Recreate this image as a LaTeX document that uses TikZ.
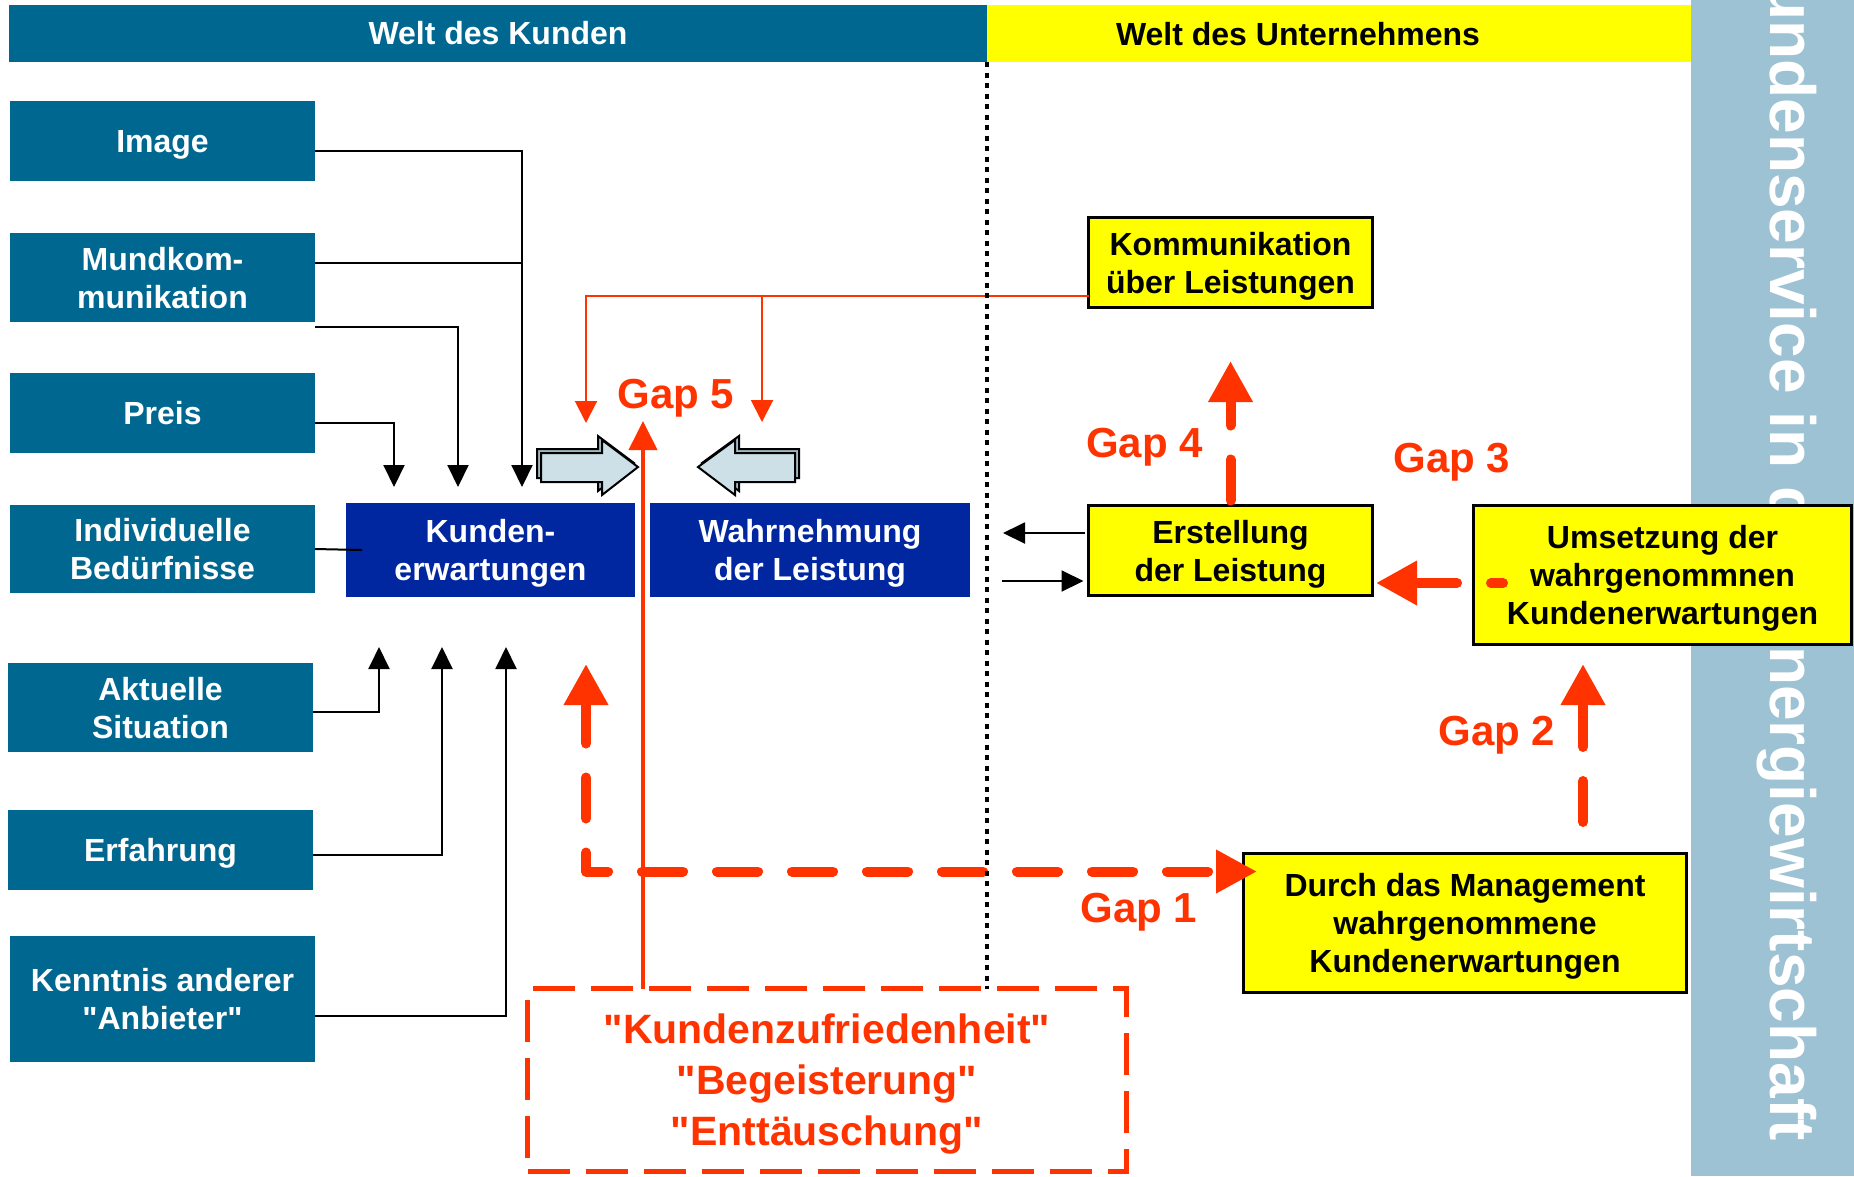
\documentclass[tikz,border=0pt]{standalone}
\usepackage{fontspec}
\setmainfont{Liberation Sans}[Ligatures=TeXOff]
\usetikzlibrary{arrows.meta,calc}
\definecolor{tealc}{RGB}{0,104,144}
\definecolor{navyc}{RGB}{0,38,160}
\definecolor{redc}{RGB}{255,51,0}
\definecolor{bandc}{RGB}{157,194,212}
\definecolor{arrc}{RGB}{205,223,231}
\definecolor{arrd}{RGB}{160,185,196}
\definecolor{yelc}{RGB}{255,255,0}
\newcommand\nodepth[1]{\raisebox{0pt}[\height][0pt]{#1}}
\begin{document}
\begin{tikzpicture}[x=1pt,y=-1pt,
  every node/.style={inner sep=0pt, outer sep=0pt},
  basebox/.style={font=\fontsize{32}{38}\selectfont\bfseries, align=center, anchor=north west},
  tealbox/.style={basebox, fill=tealc, text=white},
  navybox/.style={basebox, fill=navyc, text=white},
  yelbox/.style={basebox, fill=yelc, draw=black, line width=3pt},
  gaplabel/.style={text=redc, font=\fontsize{42}{48}\selectfont\bfseries, anchor=base},
  feed/.style={draw=black, line width=2pt, -{Triangle[length=22pt,width=21pt]}},
  thinred/.style={draw=redc, line width=2pt, -{Triangle[length=22pt,width=22pt]}},
  gapdash/.style={draw=redc, line width=10pt, line cap=round, line join=round, dash pattern=on 41pt off 34pt},
  gapline/.style={gapdash, -{Triangle[length=41pt,width=42pt]}},
  blockarrow/.style={fill=arrc, draw=black, line width=2pt, line join=miter},
  blockback/.style={fill=arrd, draw=black, line width=2pt, line join=miter},
]
\useasboundingbox (0,0) rectangle (1854,1176);

% right band with vertical title
\fill[bandc] (1691,0) rectangle (1854,1176);
\begin{scope}
  \clip (1691,0) rectangle (1854,1176);
  \node[rotate=-90, anchor=base west, text=white, font=\fontsize{64}{70}\selectfont\bfseries] (side) at (1770,-65) {Kundenservice in der Energiewirtschaft};
\end{scope}

% headers
\node[fill=tealc, text=white, font=\fontsize{32}{38}\selectfont\bfseries, minimum width=978, minimum height=57, anchor=north west] (hk) at (9,5) {Welt des Kunden};
\node[fill=yelc, minimum width=704, minimum height=57, anchor=north west] (hu) at (987,5) {};
\node[font=\fontsize{32}{38}\selectfont\bfseries, anchor=base] (hut) at (1298,45) {Welt des Unternehmens};

% left factor boxes
\node[tealbox, minimum width=305, minimum height=80] (img) at (10,101) {\nodepth{Image}};
\node[tealbox, minimum width=305, minimum height=89] (mund) at (10,233) {Mundkom-\\\nodepth{munikation}};
\node[tealbox, minimum width=305, minimum height=80] (preis) at (10,373) {\nodepth{Preis}};
\node[tealbox, minimum width=305, minimum height=88] (indiv) at (10,505) {Individuelle\\\nodepth{Bedürfnisse}};
\node[tealbox, minimum width=305, minimum height=89] (akt) at (8,663) {Aktuelle\\\nodepth{Situation}};
\node[tealbox, minimum width=305, minimum height=80] (erf) at (8,810) {\nodepth{Erfahrung}};
\node[tealbox, minimum width=305, minimum height=126] (kenn) at (10,936) {Kenntnis anderer\\\nodepth{"Anbieter"}};

% central boxes
\node[navybox, minimum width=289, minimum height=94] (kund) at (346,503) {Kunden-\\\nodepth{erwartungen}};
\node[navybox, minimum width=320, minimum height=94] (wahr) at (650,503) {Wahrnehmung\\\nodepth{der Leistung}};

% company boxes
\node[yelbox, minimum width=284, minimum height=90] (kom) at (1088.5,217.5) {Kommunikation\\\nodepth{über Leistungen}};
\node[yelbox, minimum width=284, minimum height=90] (erst) at (1088.5,505.5) {Erstellung\\\nodepth{der Leistung}};
\node[yelbox, minimum width=378, minimum height=139] (ums) at (1473.5,505.5) {Umsetzung der\\wahrgenommnen\\\nodepth{Kundenerwartungen}};
\node[yelbox, minimum width=443, minimum height=139] (durch) at (1243.5,853.5) {Durch das Management\\wahrgenommene\\\nodepth{Kundenerwartungen}};

% satisfaction box
\node[draw=redc, line width=5pt, dash pattern=on 42pt off 16pt, text=redc, font=\fontsize{41}{51}\selectfont\bfseries, align=center, anchor=north west, minimum width=599, minimum height=183] (sat) at (527.5,988.5) {"Kundenzufriedenheit"\\"Begeisterung"\\\nodepth{"Enttäuschung"}};

% free ends
\coordinate (t1) at (394,487);
\coordinate (t2) at (458,487);
\coordinate (t3) at (522,487);
\coordinate (b1) at (379,647);
\coordinate (b2) at (442,647);
\coordinate (b3) at (506,647);
\coordinate (r1) at (586,423);
\coordinate (r2) at (762,422);
\coordinate (komL) at ([yshift=-33.5pt]kom.west);
\coordinate (g5tip) at (643,421);
\coordinate (g4tip) at (1230.5,361);
\coordinate (g3s) at (1503,583);
\coordinate (g3tip) at (1376,583);
\coordinate (g2s) at (1583,822);
\coordinate (g2tip) at (1583,664);
\coordinate (g1a) at (586,664);
\coordinate (g1b) at (1257,871.5);
\coordinate (wl1) at (1003,533);
\coordinate (wl2) at (1002,581);

% black feed arrows
\draw[feed] ([yshift=-10pt]img.east) -| (t3);
\draw[draw=black, line width=2pt] ([yshift=14.5pt]mund.east) -- ([yshift=14.5pt]mund.east -| t3);
\draw[feed] ([yshift=-5pt]mund.south east) -| (t2);
\draw[feed] ([yshift=-10pt]preis.east) -| (t1);
\draw[draw=black, line width=2pt] (indiv.east) -- ([xshift=16pt]kund.west);
\draw[feed] ([yshift=-4.5pt]akt.east) -| (b1);
\draw[feed] ([yshift=-5pt]erf.east) -| (b2);
\draw[feed] ([yshift=-17pt]kenn.east) -| (b3);

% arrows at Erstellung
\draw[feed] ([yshift=17.5pt,xshift=-4pt]erst.west) -- (wl1);
\draw[feed] (wl2) -- ([yshift=-30.5pt,xshift=-5pt]erst.west);

% communication arrows
\draw[thinred] (komL) -| (r1);
\draw[thinred] (komL -| r2) -- (r2);

% block arrows
\filldraw[blockback] (537,449) -- (598,449) -- (598,436) -- (634,463) -- (598,491) -- (598,478) -- (537,478) -- cycle;
\filldraw[blockarrow] (541,453) -- (602,453) -- (602,440) -- (638,467) -- (602,495) -- (602,482) -- (541,482) -- cycle;
\filldraw[blockback] (702,463) -- (739,436) -- (739,449) -- (799,449) -- (799,478) -- (739,478) -- (739,491) -- cycle;
\filldraw[blockarrow] (698,467) -- (735,440) -- (735,453) -- (795,453) -- (795,482) -- (735,482) -- (735,495) -- cycle;

% Gap 5 line
\draw[draw=redc, line width=4pt, -{Triangle[length=29pt,width=28pt]}] (sat.north -| g5tip) -- (g5tip);

% gap arrows
\draw[gapline] ([yshift=5pt]erst.north) -- (g4tip);
\draw[gapline, dash phase=29pt] (g3s) -- (g3tip);
\draw[gapline] (g2s) -- (g2tip);
\draw[gapdash, {Triangle[length=41pt,width=42pt]}-{Triangle[length=41pt,width=41pt]}] (g1a) |- (g1b);

% border between worlds
\draw[draw=black, line width=4pt, dash pattern=on 5pt off 5.5pt] (hk.south east) -- (sat.north -| hk.east);

% gap labels
\node[gaplabel] (gap5) at (676,408) {Gap 5};
\node[gaplabel] (gap4) at (1144.5,457) {Gap 4};
\node[gaplabel] (gap3) at (1452,472) {Gap 3};
\node[gaplabel] (gap2) at (1497,745) {Gap 2};
\node[gaplabel] (gap1) at (1139,922) {Gap 1};
\end{tikzpicture}
\end{document}
